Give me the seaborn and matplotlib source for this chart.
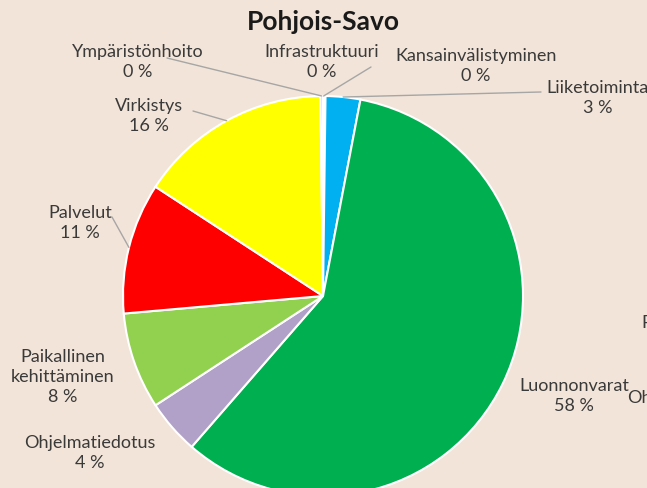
import numpy as np
import matplotlib
matplotlib.use("Agg")
import matplotlib.pyplot as plt
import seaborn as sns

# slices, clockwise from 12 o'clock
categories = ["Infrastruktuuri", "Kansainvälistyminen", "Liiketoiminta", "Luonnonvarat",
              "Ohjelmatiedotus", "Paikallinen\nkehittäminen", "Palvelut", "Virkistys",
              "Ympäristönhoito"]
shares = [0.1, 0.1, 2.8, 58.4, 4.4, 7.8, 10.6, 15.6, 0.2]
colors = ["#7F7F7F", "#FFC000", "#00B0F0", "#00B050", "#B1A0C7", "#92D050",
          "#FF0000", "#FFFF00", "#F4B183"]

bg = "#F2E4D8"
sns.set_theme(style="white", rc={"figure.facecolor": bg, "axes.facecolor": bg})
plt.rcParams["font.family"] = ["Lato", "DejaVu Sans"]

W, H = 647, 489
fig = plt.figure(figsize=(W / 100, H / 100), dpi=100)
ax = fig.add_axes([0, 0, 1, 1])

cx, cy, R = 323, H - 297, 200
wedges, _ = ax.pie(shares, colors=colors, startangle=90, counterclock=False,
                   center=(cx, cy), radius=R, frame=True,
                   wedgeprops=dict(edgecolor="white", linewidth=1.5))
ax.set_xlim(0, W)
ax.set_ylim(0, H)
ax.set_aspect("equal")
ax.axis("off")

def edge_point(w, r=1.0):
    mid = np.deg2rad((w.theta1 + w.theta2) / 2)
    return cx + R * r * np.cos(mid), cy + R * r * np.sin(mid)

txt = "#3A3A3A"
fs = 13
# label positions (pixel coords from top-left) and leader start points
label_pos = {
    0: (322, 62, (371, 68)),
    1: (476, 66, None),
    2: (598, 98, (541, 93)),
    3: (574, 396, None),
    4: (90, 453, None),
    5: (63, 377, None),
    6: (80, 223, (112, 218)),
    7: (149, 116, (193, 112)),
    8: (138, 62, (167, 59)),
}
for i, (x, y, lead) in label_pos.items():
    pct = f"{round(shares[i]):.0f} %"
    ax.text(x, H - y, f"{categories[i]}\n{pct}", ha="center", va="center",
            fontsize=fs, color=txt, linespacing=1.3)
    if lead is not None:
        ex, ey = edge_point(wedges[i])
        ax.plot([lead[0], ex], [H - lead[1], ey], color="#A6A6A6", lw=1)

# clipped labels from a neighbouring chart at the right edge
ax.text(641, H - 323, "Palvelut", ha="left", va="center", fontsize=fs, color=txt)
ax.text(627, H - 398, "Ohjelmatiedotus", ha="left", va="center", fontsize=fs, color=txt)

ax.text(323, H - 22, "Pohjois-Savo", ha="center", va="center", fontsize=19,
        fontweight="bold", color="#1a1a1a")

fig.savefig("out.png", dpi=100, facecolor=bg)
